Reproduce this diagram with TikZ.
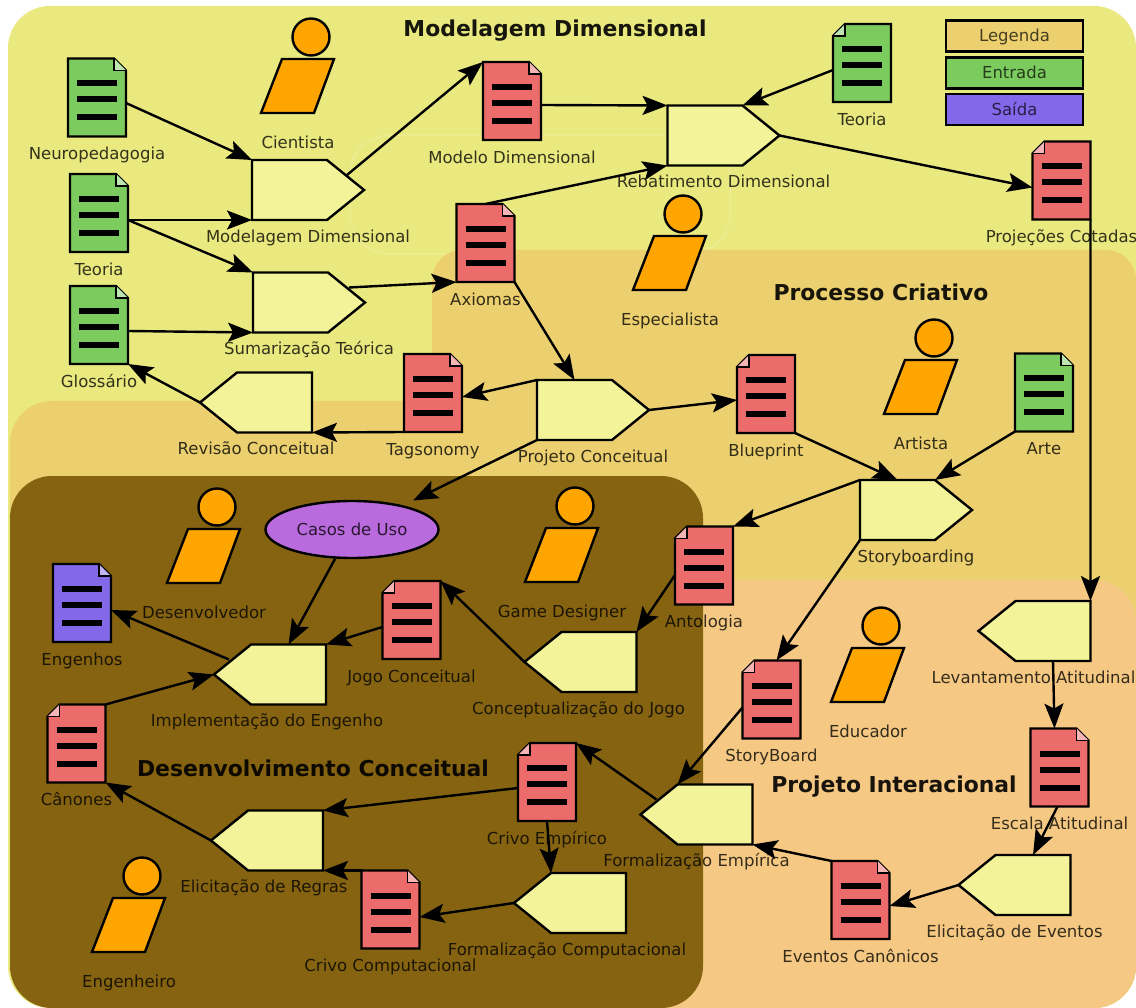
\documentclass[tikz,border=0pt]{standalone}
\usepackage{fontspec}
\setmainfont{DejaVu Sans}
\usetikzlibrary{arrows.meta,shapes.geometric,shapes.symbols}
\definecolor{bgyellow}{HTML}{E9E97F}
\definecolor{bgorange}{HTML}{ECD06F}
\definecolor{bgpeach}{HTML}{F5C983}
\definecolor{bgbrown}{HTML}{856311}
\definecolor{procfill}{HTML}{F3F399}
\definecolor{docred}{HTML}{EC6B6B}
\definecolor{docgreen}{HTML}{7CCB5E}
\definecolor{docviolet}{HTML}{8468EA}
\definecolor{personfill}{HTML}{FFA500}
\definecolor{usefill}{HTML}{B96ADC}
\tikzset{
	lbl/.style={font=\fontsize{16.5}{18}\selectfont,text=black,text opacity=.78,inner sep=0pt,text height=12pt,text depth=4pt},
	dlbl/.style={lbl,yshift=-10pt},
	plblE/.style={lbl,yshift=-9pt,xshift=18.5pt},
	plblW/.style={lbl,yshift=-9pt,xshift=-18.5pt},
	title/.style={font=\bfseries\fontsize{21.9}{24}\selectfont,text=black,text opacity=.9,inner sep=0pt},
	docbase/.style={minimum width=58pt,minimum height=78pt,inner sep=0pt,outer sep=0pt},
	bars/.style={line width=6pt},
	docR/.style={docbase,append after command={\pgfextra{
		\draw[fill=#1] (\tikzlastnode.south west) -- (\tikzlastnode.north west) -- ([xshift=-12pt]\tikzlastnode.north east) -- ([yshift=-12pt]\tikzlastnode.north east) -- (\tikzlastnode.south east) -- cycle;
		\draw[fill=#1!50!white,line width=1.5pt] ([xshift=-12pt]\tikzlastnode.north east) -- ([shift={(-12pt,-12pt)}]\tikzlastnode.north east) -- ([yshift=-12pt]\tikzlastnode.north east);
		\foreach \yy in {14,-2,-20} \draw[bars] ([shift={(-20pt,\yy pt)}]\tikzlastnode.center) -- ([shift={(20pt,\yy pt)}]\tikzlastnode.center);
	}}},
	docL/.style={docbase,append after command={\pgfextra{
		\draw[fill=#1] (\tikzlastnode.south east) -- (\tikzlastnode.north east) -- ([xshift=12pt]\tikzlastnode.north west) -- ([yshift=-12pt]\tikzlastnode.north west) -- (\tikzlastnode.south west) -- cycle;
		\draw[fill=#1!50!white,line width=1.5pt] ([xshift=12pt]\tikzlastnode.north west) -- ([shift={(12pt,-12pt)}]\tikzlastnode.north west) -- ([yshift=-12pt]\tikzlastnode.north west);
		\foreach \yy in {14,-2,-20} \draw[bars] ([shift={(-20pt,\yy pt)}]\tikzlastnode.center) -- ([shift={(20pt,\yy pt)}]\tikzlastnode.center);
	}}},
	proc/.style={signal,signal pointer angle=78,draw,fill=procfill,minimum width=112pt,minimum height=60pt,inner sep=0pt,outer sep=0pt},
	procE/.style={proc,signal to=east,xshift=-18.5pt},
	procW/.style={proc,signal to=west,xshift=18.5pt},
	legendbox/.style={lbl,draw,rectangle,minimum width=137pt,minimum height=31pt,text opacity=.7,text height=16pt},
	persona/.style={circle,draw,fill=personfill,minimum size=37pt,inner sep=0pt},
}

\begin{document}
\begin{tikzpicture}[x=1pt,y=-1pt,>={Stealth[length=25pt,width=19pt,inset=5pt]},line width=2.4pt]
	\useasboundingbox (0,0) rectangle (1136,1008);

	% zones
	\fill[bgyellow,rounded corners=42pt] (8,6) rectangle (1136,1008);
	\draw[white,opacity=.15,line width=1.5pt,rounded corners=40pt] (350,135) rectangle (730,254);
	\fill[bgorange,rounded corners=30pt] (432,250) rectangle (1136,700);
	\fill[bgorange,rounded corners=42pt] (10,401) rectangle (1136,1008);
	\fill[bgpeach,rounded corners=42pt] (600,580) rectangle (1136,1008);
	\fill[bgbrown,rounded corners=42pt] (10,476) rectangle (703,1008);

	\node[title] (tModel) at (555,31) {Modelagem Dimensional};
	\node[title] (tProc) at (881,292.5) {Processo Criativo};
	\node[title] (tDev) at (313,768) {Desenvolvimento Conceitual};
	\node[title] (tInter) at (894,787) {Projeto Interacional};

	% legenda
	\node[legendbox,fill=bgorange] (Legenda) at (1014.5,36) {Legenda};
	\node[legendbox,fill=docgreen] (Entrada) at (1014.5,73) {Entrada};
	\node[legendbox,fill=docviolet] (Saida) at (1014.5,109.5) {Saída};

	% papeis
	\foreach \pname/\px/\py/\ptext in {Cientista/311/37/Cientista, Especialista/683/214/Especialista, Artista/934/338/Artista, Educador/881/626/Educador, Desenvolvedor/217/507/Desenvolvedor, GameDesigner/575/506/Game Designer, Engenheiro/142/876/Engenheiro}{
		\node[persona] (\pname) at (\px,\py) {};
		\draw[fill=personfill] ([shift={(-29pt,-22pt)}]\pname.center) -- ([shift={(23pt,-22pt)}]\pname.center) -- ([shift={(3pt,-76pt)}]\pname.center) -- ([shift={(-50pt,-76pt)}]\pname.center) -- cycle;
		\node[lbl] (\pname Txt) at ([shift={(-13pt,-107.5pt)}]\pname.center) {\ptext};
	}

	% documentos
	\node[docR=docgreen,label={[dlbl]below:Neuropedagogia}] (Neuro) at (97,97.5) {};
	\node[docR=docgreen,label={[dlbl]below:Teoria}] (TeoriaA) at (99,213) {};
	\node[docR=docgreen,label={[dlbl]below:Glossário}] (Glossario) at (99,325) {};
	\node[docL=docgreen,label={[dlbl]below:Teoria}] (TeoriaB) at (862,63) {};
	\node[docR=docgreen,label={[dlbl]below:Arte}] (Arte) at (1044,392.5) {};
	\node[docR=docred,label={[dlbl]below:Modelo Dimensional}] (ModeloD) at (512,101) {};
	\node[docR=docred,label={[dlbl]below:Axiomas}] (Axiomas) at (485.5,243) {};
	\node[docL=docred,label={[dlbl]below:Projeções Cotadas}] (Projecoes) at (1061.5,180.5) {};
	\node[docR=docred,label={[dlbl]below:Tagsonomy}] (Tagsonomy) at (433,393) {};
	\node[docL=docred,label={[dlbl]below:Blueprint}] (Blueprint) at (766,394) {};
	\node[docL=docred,label={[dlbl]below:Antologia}] (Antologia) at (704,565.5) {};
	\node[docL=docred,label={[dlbl]below:Jogo Conceitual}] (JogoC) at (411.5,620) {};
	\node[docR=docviolet,label={[dlbl]below:Engenhos}] (Engenhos) at (82,603) {};
	\node[docL=docred,label={[dlbl]below:Cânones}] (Canones) at (76.5,743.5) {};
	\node[docL=docred,label={[dlbl]below:StoryBoard}] (StoryBoard) at (771.5,699.5) {};
	\node[docR=docred,label={[dlbl]below:Escala Atitudinal}] (EscalaA) at (1059.5,767.5) {};
	\node[docR=docred,label={[dlbl]below:Eventos Canônicos}] (EventosC) at (860.5,900) {};
	\node[docL=docred,label={[dlbl]below:Crivo Empírico}] (CrivoE) at (547,782) {};
	\node[docR=docred,label={[dlbl]below:Crivo Computacional}] (CrivoC) at (390.5,909.5) {};

	% atividades
	\node[procE,label={[plblE]below:Modelagem Dimensional}] (ModelagemP) at (308,190) {};
	\node[procE,label={[plblE]below:Sumarização Teórica}] (SumarP) at (309,302.5) {};
	\node[procE,label={[plblE]below:Rebatimento Dimensional}] (RebatP) at (723.5,135.5) {};
	\node[procW,label={[plblW]below:Revisão Conceitual}] (RevisaoP) at (256,402.5) {};
	\node[procE,label={[plblE]below:Projeto Conceitual}] (ProjetoP) at (593,410) {};
	\node[procE,label={[plblE]below:Storyboarding}] (StoryP) at (916,510) {};
	\node[procW,label={[plblW,xshift=-1pt]below:Levantamento Atitudinal}] (LevantP) at (1034.5,631) {};
	\node[procW,label={[plblW]below:Elicitação de Eventos}] (ElicitE) at (1014.5,885) {};
	\node[procW,label={[plblW]below:Formalização Empírica}] (FormE) at (696.5,814.5) {};
	\node[procW,label={[plblW,xshift=-3pt]below:Formalização Computacional}] (FormC) at (570,903) {};
	\node[procW,label={[plblW,xshift=-3pt]below:Elicitação de Regras}] (ElicitR) at (267,840.5) {};
	\node[procW,label={[plblW,xshift=-3pt]below:Implementação do Engenho}] (ImplP) at (270,674.5) {};
	\node[procW,label={[plblW,xshift=-2pt]below:Conceptualização do Jogo}] (ConceptP) at (580.5,662) {};

	\node[ellipse,draw,fill=usefill,minimum width=173pt,minimum height=57pt,inner sep=0pt,lbl,text height=16pt] (CasosUso) at (352,529.5) {Casos de Uso};

	% fluxos
	\path[->] ([yshift=-5.5pt]Neuro.east) edge (ModelagemP.north west);
	\path[->] ([yshift=-7pt]TeoriaA.east) edge (ModelagemP.south west)
		edge (SumarP.north west);
	\path[->] ([yshift=-6pt]Glossario.east) edge (SumarP.south west);
	\path[->] ([shift={(20pt,-15pt)}]ModelagemP.north east) edge (ModeloD.north west);
	\path[->] ([yshift=-4pt]ModeloD.east) edge (RebatP.north west);
	\path[->] ([yshift=-7pt]TeoriaB.west) edge (RebatP.north east);
	\path[->] (RebatP.east) edge ([yshift=-7pt]Projecoes.west);
	\path[->] (Axiomas.north) edge (RebatP.south west)
		(Axiomas.south east) edge (ProjetoP.north);
	\path[->] ([shift={(21pt,-15pt)}]SumarP.north east) edge (Axiomas.south west);
	\path[->] (ProjetoP.north west) edge ([yshift=-4pt]Tagsonomy.east);
	\path[->] (Tagsonomy.south west) edge (RevisaoP.south east);
	\path[->] (RevisaoP.west) edge (Glossario.south east);
	\path[->] (ProjetoP.east) edge ([yshift=-6pt]Blueprint.west);
	\path[->] (ProjetoP.south west) edge ([shift={(61pt,29pt)}]CasosUso.center);
	\path[->] (Blueprint.south east) edge (StoryP.north);
	\path[->] (Arte.south west) edge (StoryP.north east);
	\path[->] (StoryP.north west) edge (Antologia.north east);
	\path[->] (StoryP.south west) edge ([xshift=5pt]StoryBoard.north);
	\path[->] ([yshift=-9.5pt]Antologia.west) edge (ConceptP.north east);
	\path[->] (ConceptP.west) edge (JogoC.north east);
	\path[->] ([yshift=-7pt]JogoC.west) edge (ImplP.north east);
	\path[->] (CasosUso.-120) edge (ImplP.north);
	\path[->] ([shift={(15pt,15pt)}]ImplP.west) edge ([yshift=-7pt]Engenhos.east);
	\path[->] (Canones.north east) edge (ImplP.west);
	\path[->] (ElicitR.west) edge (Canones.south east);
	\path[->] ([yshift=-6pt]CrivoE.west) edge (ElicitR.north east);
	\path[->] (CrivoC.north west) edge (ElicitR.south east);
	\path[->] (CrivoE.south) edge (FormC.north west);
	\path[->] (FormC.west) edge ([yshift=-7.5pt]CrivoC.east);
	\path[->] ([shift={(16pt,15pt)}]FormE.west) edge (CrivoE.north east);
	\path[->] ([yshift=-8pt]StoryBoard.west) edge (FormE.north west);
	\path[->] (EventosC.north west) edge (FormE.south east);
	\path[->] (ElicitE.west) edge ([yshift=-6pt]EventosC.east);
	\path[->] ([xshift=-2pt]EscalaA.south) edge (ElicitE.north);
	\path[->] (LevantP.south) edge ([xshift=-5pt]EscalaA.north);
	\path[->] (Projecoes.south east) edge (LevantP.north east);
\end{tikzpicture}
\end{document}
